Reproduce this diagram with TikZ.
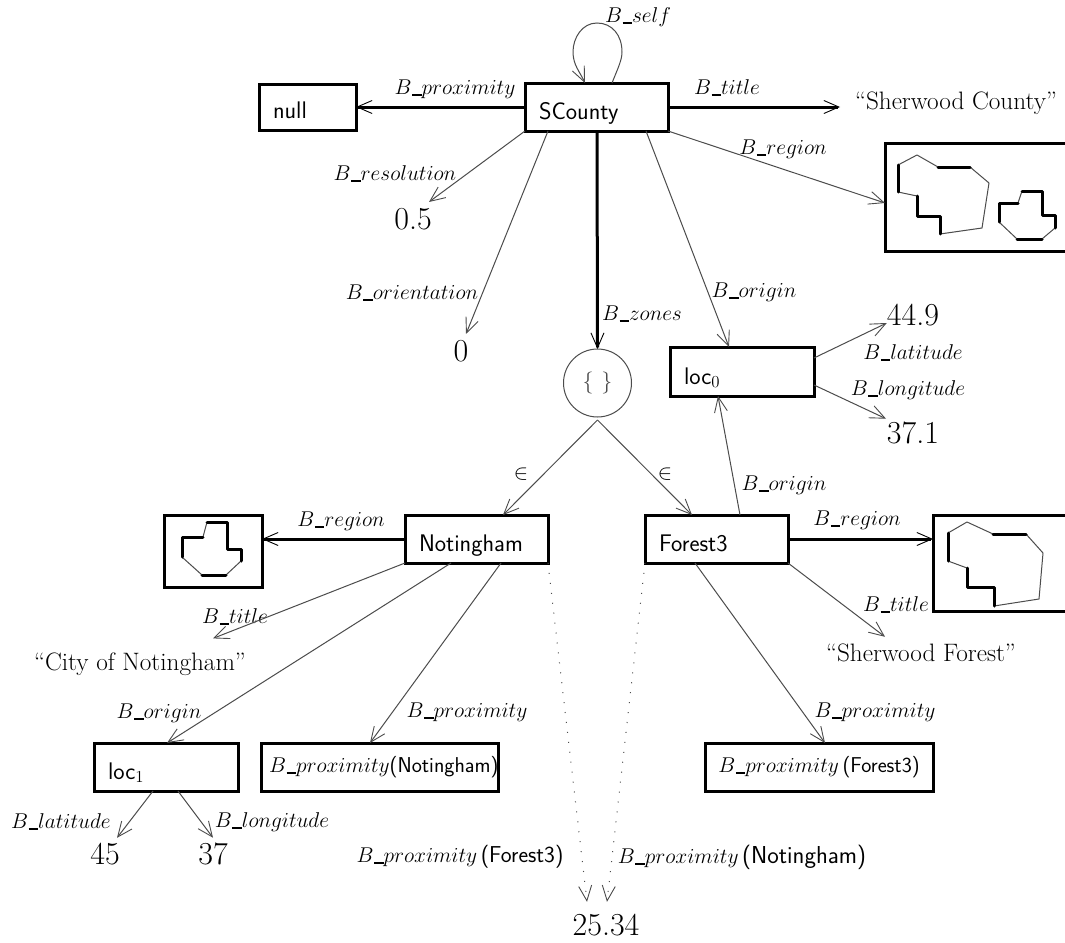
\documentclass[tikz,border=0pt]{standalone}
\usepackage{fix-cm}
\usetikzlibrary{arrows.meta,calc}
\newcommand{\lbl}[1]{$B$\kern0.5pt\rule[-1.5pt]{9.5pt}{2pt}$#1$}
\tikzset{
  x=1pt,y=-1pt,
  tipv/.tip={Straight Barb[length=15pt,width=13pt,line width=0.9pt]},
  boxn/.style={draw=black,line width=3pt,rectangle,outer sep=0pt,inner sep=0pt,anchor=north west,fill=white},
  thick edge/.style={line width=3pt,draw=black,-{Straight Barb[length=15pt,width=13pt,line width=0.9pt]}},
  thin edge/.style={line width=1pt,draw=black!70,-tipv},
  dot edge/.style={line width=1pt,draw=black!70,dash pattern=on 1pt off 9pt,-tipv},
  lab/.style={inner sep=0pt,font=\fontsize{21.4}{25}\selectfont},
  str/.style={inner sep=0pt,font=\fontsize{25.2}{28}\selectfont},
  val/.style={inner sep=0pt,font=\fontsize{32}{36}\selectfont},
  thick seg/.style={line width=3pt,line cap=round,line join=round},
  thin seg/.style={line width=1pt,draw=black!70,line join=round},
}
\newcommand{\bx}[6]{%
  \pgfmathsetlengthmacro{\bw}{#4-#2-29}%
  \pgfmathsetlengthmacro{\bh}{#5-#3-12}%
  \node[boxn,inner xsep=14pt,text width=\bw,text height=\bh,text depth=12pt,align=left,font=\fontsize{24}{28}\selectfont\sffamily] (#1) at (#2,#3) {#6};%
}
\newcommand{\rbox}[5]{%
  \pgfmathsetlengthmacro{\bw}{#4-#2}%
  \pgfmathsetlengthmacro{\bh}{#5-#3}%
  \node[boxn,minimum width=\bw,minimum height=\bh] (#1) at (#2,#3) {};%
}
\newcommand{\sfs}[1]{{\fontsize{24.5}{28}\selectfont\sffamily #1}}
\newcommand{\sfm}[1]{{\fontsize{21.5}{25}\selectfont\sffamily #1}}
\newcommand{\sfo}[1]{{\fontsize{23}{26}\selectfont\sffamily #1}}
\begin{document}
\begin{tikzpicture}
\clip (0,0) rectangle (1065,942);
\fill[white] (0,0) rectangle (1065,942);
% boxes
\bx{null}{259}{84}{357}{130}{null}
\bx{sc}{525}{83}{669}{131}{SCounty}
\rbox{rtop}{885}{143}{1075}{251}
\bx{loc0}{670}{347}{815}{396}{loc$_0$}
\bx{not}{405}{515}{549}{563}{Notingham}
\bx{for}{645}{515}{789}{563}{Forest3}
\rbox{rnot}{164}{515}{262}{587}
\rbox{rfor}{933}{515}{1075}{611}
\bx{loc1}{94}{743}{239}{791}{loc$_1$}
\node[boxn,minimum width=237pt,minimum height=48pt,font=\fontsize{21.4}{25}\selectfont] (pn) at (261,743) {\hspace*{8pt}\raisebox{-9pt}{\lbl{proximity}\sfm{(Notingham)}}};
\node[boxn,minimum width=228pt,minimum height=48pt,font=\fontsize{21.4}{25}\selectfont] (pf) at (705,743) {\raisebox{-9pt}{\lbl{proximity}\,\sfm{(Forest3)}}};
\node[circle,draw=black!70,line width=1pt,minimum size=68pt,inner sep=0pt,outer sep=0pt,font=\fontsize{22}{26}\selectfont,text=black!70] (set) at (597.5,383) {$\{\hspace{8pt}\}$};
% value nodes
\node[str] (tsc) at (956,103) {``Sherwood County''};
\node[str] (tfor) at (921,653) {``Sherwood Forest''};
\node[str] (tnot) at (140,664) {``City of Notingham''};
\node[val] (v05) at (413,219) {0.5};
\node[val] (v0) at (461,351) {0};
\node[val] (v449) at (913,315) {44.9};
\node[val] (v371) at (913,433) {37.1};
\node[val] (v45) at (105,854) {45};
\node[val] (v37) at (213,854) {37};
\node[val] (v25) at (606,925) {25.34};
% labels
\node[lab] at (638,17) {\lbl{self}};
\node[lab] at (455,89) {\lbl{proximity}};
\node[lab] at (727,88) {\lbl{title}};
\node[lab] at (783,149) {\lbl{region}};
\node[lab] at (395,174) {\lbl{resolution}};
\node[lab] at (412,293) {\lbl{orientation}};
\node[lab] at (642,314) {\lbl{zones}};
\node[lab] at (754,292) {\lbl{origin}};
\node[lab] at (913,353) {\lbl{latitude}};
\node[lab] at (908,390) {\lbl{longitude}};
\node[lab] at (784,485) {\lbl{origin}};
\node[lab] at (341,521) {\lbl{region}};
\node[lab] at (857,520) {\lbl{region}};
\node[lab] at (235,617) {\lbl{title}};
\node[lab] at (896,605) {\lbl{title}};
\node[lab] at (159,713) {\lbl{origin}};
\node[lab] at (467,712) {\lbl{proximity}};
\node[lab] at (875,712) {\lbl{proximity}};
\node[lab] at (61,822) {\lbl{latitude}};
\node[lab] at (272,822) {\lbl{longitude}};
\node[lab] at (460,857) {\lbl{proximity}\,\sfo{(Forest3)}};
\node[lab] at (742,857) {\lbl{proximity}\,\sfs{(Notingham)}};
\node[lab] at (521,474) {$\in$};
\node[lab] at (665,474) {$\in$};
% edges
\draw[thin edge] ([xshift=87pt]sc.north west) .. controls (618,68) and (622,60) .. (622,52) .. controls (622,35) and (612,23) .. (597,23) .. controls (582,23) and (573,38) .. (573,52) .. controls (573,65) and (580,72) .. ([xshift=60pt]sc.north west);
\draw[thick edge] ([yshift=-24pt]sc.north west) -- ([yshift=-23pt]null.north east);
\draw[thick edge] ([yshift=-24pt]sc.north east) -- (840,107);
\draw[thin edge] (sc.south east) -- ([yshift=-60pt]rtop.north west);
\draw[thin edge] (sc.south west) -- ([xshift=16pt,yshift=6pt]v05.north);
\draw[thin edge] ([xshift=23pt]sc.south west) -- ([xshift=5pt,yshift=6pt]v0.north);
\draw[thick edge] ([xshift=72pt]sc.south west) -- (set.north);
\draw[thin edge] ([xshift=121pt]sc.south west) -- ([xshift=59pt]loc0.north west);
\draw[thin edge] ([yshift=-11pt]loc0.north east) -- ([yshift=-8pt]v449.west);
\draw[thin edge] ([yshift=11pt]loc0.south east) -- ([xshift=-27pt,yshift=3pt]v371.north);
\draw[thin edge] ([yshift=-3pt]set.south) -- ([xshift=98pt]not.north west);
\draw[thin edge] ([yshift=-3pt]set.south) -- ([xshift=47pt]for.north west);
\draw[thin edge] ([xshift=95pt]for.north west) -- ([xshift=48pt]loc0.south west);
\draw[thick edge] ([yshift=-24pt]not.north west) -- ([yshift=-24pt]rnot.north east);
\draw[thick edge] ([yshift=-24pt]for.north east) -- ([yshift=-24pt]rfor.north west);
\draw[thin edge] (not.south west) -- ([xshift=73pt,yshift=14pt]tnot.north);
\draw[thin edge] ([xshift=46pt]not.south west) -- ([xshift=73pt]loc1.north west);
\draw[thin edge] ([xshift=96pt]not.south west) -- ([xshift=109pt]pn.north west);
\draw[dot edge] (not.south east) -- ([xshift=-19pt,yshift=12pt]v25.north);
\draw[dot edge] (for.south west) -- ([xshift=1pt,yshift=12pt]v25.north);
\draw[thin edge] ([xshift=50pt]for.south west) -- ([xshift=120pt]pf.north west);
\draw[thin edge] (for.south east) -- ([xshift=-36pt,yshift=7pt]tfor.north);
\draw[thin edge] ([xshift=59pt]loc1.south west) -- ([xshift=12pt,yshift=5pt]v45.north);
\draw[thin edge] ([xshift=84pt]loc1.south west) -- ([yshift=5pt]v37.north);
% region outlines
\draw[thin seg] (898,165)--(917,155)--(938,167) (970,167)--(989,183)--(982,228)--(940,234) (917,196)--(898,192);
\draw[thick seg] (898,165)--(898,192) (938,167)--(970,167) (917,196)--(917,216)--(940,216)--(940,234);
\draw[thin seg] (1018,203)--(1022,191) (1055,228)--(1042,239) (1017,239)--(999,222);
\draw[thick seg] (1022,191)--(1042,191)--(1042,215)--(1055,215)--(1055,228) (1042,239)--(1017,239) (999,222)--(999,203)--(1018,203);
\draw[thin seg] (203,537)--(207,522) (241,561)--(226,575) (202,575)--(182,557);
\draw[thick seg] (207,522)--(227,522)--(227,549)--(241,549)--(241,561) (226,575)--(202,575) (182,557)--(182,537)--(203,537);
\draw[thin seg] (948,533)--(967,522)--(993,534) (1026,534)--(1043,553)--(1039,599)--(994,606) (967,568)--(948,561);
\draw[thick seg] (948,533)--(948,561) (993,534)--(1026,534) (967,568)--(967,587)--(994,587)--(994,606);
\end{tikzpicture}
\end{document}
